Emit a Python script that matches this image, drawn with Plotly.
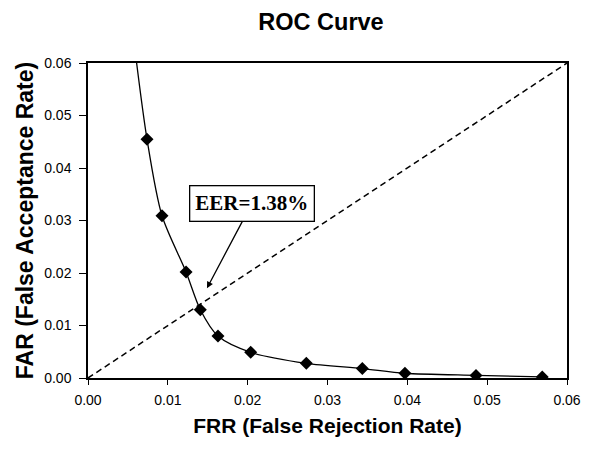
import plotly.graph_objects as go

# Data
frr = [0.00739, 0.00927, 0.01228, 0.01407, 0.01628, 0.02038, 0.02735, 0.03436, 0.0397, 0.0486, 0.0569]
far = [0.0455, 0.0309, 0.0202, 0.0130, 0.0080, 0.0049, 0.0028, 0.0018, 0.0009, 0.0005, 0.0002]
# curve continues above the plot (unmarked segment)
lead_frr = [0.0056]
lead_far = [0.066]
diag = [0.0, 0.06]
eer_frr = 0.0149
eer_far = 0.0171
eer_label = "EER=1.38%"
tick_vals = [0.0, 0.01, 0.02, 0.03, 0.04, 0.05, 0.06]

fig = go.Figure()

fig.add_trace(go.Scatter(
    x=diag, y=diag, mode="lines",
    line=dict(color="black", width=1.5, dash="6px,4px"),
    showlegend=False, hoverinfo="skip",
))

fig.add_trace(go.Scatter(
    x=lead_frr + frr, y=lead_far + far, mode="lines",
    line=dict(color="black", width=1.3, shape="spline", smoothing=0.8),
    showlegend=False, hoverinfo="skip",
))

fig.add_trace(go.Scatter(
    x=frr, y=far, mode="markers",
    marker=dict(symbol="diamond", size=10, color="black"),
    showlegend=False,
))

fig.add_annotation(
    x=eer_frr, y=eer_far, xref="x", yref="y",
    ax=45, ay=-85, axref="pixel", ayref="pixel",
    text="<b>" + eer_label + "</b>",
    font=dict(family="Liberation Serif, Times New Roman, serif", size=21, color="black"),
    showarrow=True, arrowhead=2, arrowsize=1, arrowwidth=1.3, arrowcolor="black",
    bordercolor="black", borderwidth=1.3, borderpad=5, bgcolor="white",
)

axis_font = dict(family="Liberation Sans, Arial, sans-serif", size=14, color="black")

# the page body adds an 8px offset, so margins are compensated for it
fig.update_layout(
    width=590, height=450,
    margin=dict(l=80, r=31, t=55, b=80),
    paper_bgcolor="white", plot_bgcolor="white",
    title=dict(
        text="<b>ROC Curve</b>", x=313 / 590, xanchor="center",
        y=1 - 13.5 / 450, yanchor="middle", yref="container",
        font=dict(family="Liberation Sans, Arial, sans-serif", size=23.5, color="black"),
    ),
    xaxis=dict(
        range=[0, 0.06], tickvals=tick_vals, tickformat=".2f",
        showgrid=False, zeroline=False, automargin=False,
        showline=True, linecolor="black", linewidth=1.5, mirror=True,
        ticks="outside", ticklen=5, tickcolor="black", tickwidth=1,
        ticklabelstandoff=3,
        tickfont=axis_font,
        title=dict(text="<b>FRR (False Rejection Rate)</b>", standoff=12,
                   font=dict(family="Liberation Sans, Arial, sans-serif", size=21, color="black")),
    ),
    yaxis=dict(
        range=[0, 0.06], tickvals=tick_vals, tickformat=".2f",
        showgrid=False, zeroline=False, automargin=False,
        showline=True, linecolor="black", linewidth=1.5, mirror=True,
        ticks="outside", ticklen=7, tickcolor="black", tickwidth=1,
        ticklabelstandoff=5,
        tickfont=axis_font,
        title=dict(text="<b>FAR (False Acceptance Rate)</b>", standoff=4,
                   font=dict(family="Liberation Sans, Arial, sans-serif", size=23, color="black")),
    ),
)

fig.write_html("out.html")
